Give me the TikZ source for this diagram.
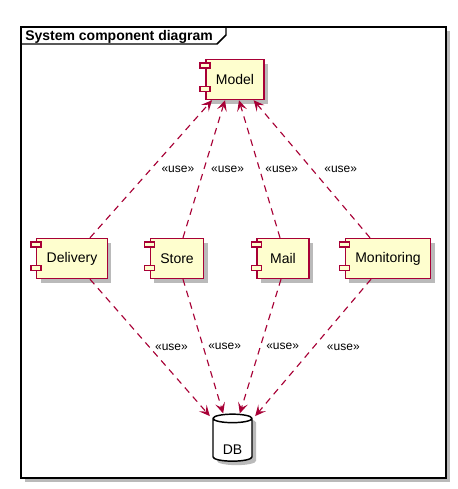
\documentclass[tikz,border=0pt]{standalone}
\usepackage{fontspec}
\setmainfont{Liberation Sans}
\usetikzlibrary{arrows.meta,shapes.geometric,shadows}

\definecolor{umlred}{HTML}{A80036}
\definecolor{umlfill}{HTML}{FEFECE}

\tikzset{
  shade/.style={drop shadow={shadow xshift=3pt,shadow yshift=-3pt,fill=black!45,opacity=.6}},
  comp/.style={draw=umlred, fill=umlfill, line width=1.1pt, shade,
    minimum height=30pt, minimum width=39pt, inner xsep=7.5pt,
    font=\fontsize{10.5}{12}\selectfont},
  comptab/.style={draw=umlred, fill=umlfill, line width=1.1pt},
  store/.style={cylinder, shape border rotate=90, aspect=0.3, draw, fill=white,
    line width=1.1pt, shade, minimum width=29.25pt, minimum height=35.25pt,
    text height=19pt, text depth=0pt,
    font=\fontsize{10.5}{12}\selectfont},
  dep/.style={draw=umlred, line width=.85pt, dash pattern=on 5pt off 4pt,
    -{Stealth[length=8pt,width=7.5pt,inset=3.5pt]}},
  lbl/.style={font=\fontsize{9}{10}\selectfont, inner sep=0pt, anchor=west, text=black}
}

\begin{document}
\begin{tikzpicture}[x=0.75pt, y=-0.75pt]
  \useasboundingbox (0,0) rectangle (457,489);
  % frame
  \draw[line width=1.1pt, fill=white, shade] (21,27) rectangle (446,478);
  \draw[line width=1.1pt] (21,44) -- (217,44) -- (226,35) -- (226,27);
  \node[anchor=base west, inner sep=0pt, font=\fontsize{10.5}{12}\selectfont\bfseries] (title) at (25,40) {System component diagram};

  % components
  \node[comp] (model) at (235,79.5) {Model};
  \node[comp] (delivery) at (72,258.5) {Delivery};
  \node[comp] (store) at (177,258.5) {Store};
  \node[comp] (mail) at (283,258.5) {Mail};
  \node[comp] (monitoring) at (388,258.5) {Monitoring};
  \foreach \n in {model,delivery,store,mail,monitoring}{
    \draw[comptab] ([xshift=-3.75pt,yshift=-3pt]\n.north west) rectangle ++(7.5pt,-3.75pt);
    \draw[comptab] ([xshift=-3.75pt,yshift=10.5pt]\n.south west) rectangle ++(7.5pt,-3.75pt);
  }
  \node[store] (db) at (232.5,441.5) {DB};

  % uses
  \draw[dep] ([xshift=13.5pt]delivery.north) -- node[lbl, xshift=7.5pt] {«use»} ([xshift=-17.25pt]model.south);
  \draw[dep] ([xshift=4.5pt]store.north) -- node[lbl, xshift=5pt] {«use»} ([xshift=-7.5pt]model.south);
  \draw[dep] ([xshift=-2.25pt]mail.north) -- node[lbl, xshift=4pt] {«use»} ([xshift=3pt]model.south);
  \draw[dep] ([xshift=-13.5pt]monitoring.north) -- node[lbl, xshift=9pt] {«use»} ([xshift=14pt]model.south);

  \draw[dep] ([xshift=13.5pt]delivery.south) -- node[lbl, xshift=3.5pt] {«use»} ([xshift=-17pt,yshift=-2pt]db.north);
  \draw[dep] ([xshift=4.5pt]store.south) -- node[lbl, xshift=3.5pt] {«use»} ([xshift=-7pt]db.north);
  \draw[dep] ([xshift=-1.5pt]mail.south) -- node[lbl, xshift=4pt] {«use»} ([xshift=5.5pt]db.north);
  \draw[dep] ([xshift=-12.75pt]monitoring.south) -- node[lbl, xshift=10pt] {«use»} ([xshift=17pt,yshift=-2pt]db.north);
\end{tikzpicture}
\end{document}
